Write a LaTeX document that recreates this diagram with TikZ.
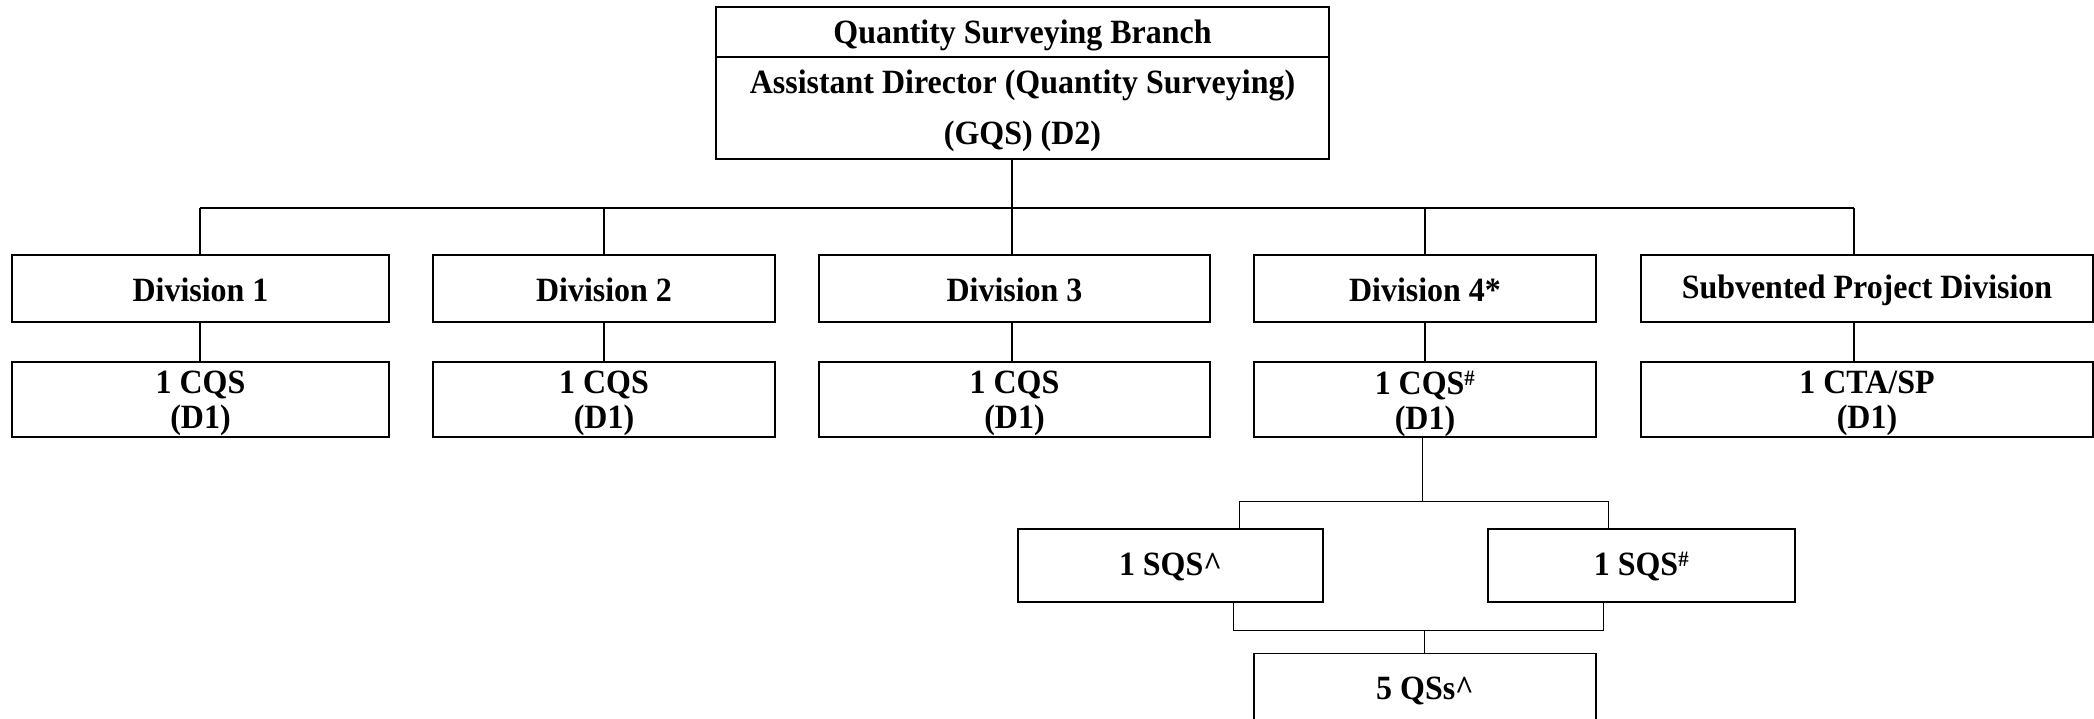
\documentclass[tikz,border=0pt]{standalone}
\usepackage{fontspec}
\setmainfont{Liberation Serif}[FakeStretch=0.94]
\begin{document}
\begin{tikzpicture}[x=1pt,y=-1pt,
  box/.style={draw, line width=1.8pt, inner sep=0pt},
  thinbox/.style={box, line width=1.1pt},
  txt/.style={inner sep=0pt, align=center, font=\bfseries\fontsize{34}{35}\selectfont},
  conn/.style={line width=1.6pt},
  thinconn/.style={line width=1pt}]
\useasboundingbox (0,0) rectangle (2094,719);
% top box
\node[box, minimum width=613pt, minimum height=50pt] (qsb) at (1022.5,32) {};
\node[txt] (qsbt) at ([yshift=-3pt]qsb.center) {Quantity Surveying Branch};
\node[box, minimum width=613pt, minimum height=102pt] (ad) at (1022.5,108) {};
\node[txt, font=\bfseries\fontsize{34}{51}\selectfont] (adt) at ([yshift=-3pt]ad.center) {Assistant Director (Quantity Surveying)\\(GQS) (D2)};
% divisions
\node[box, minimum width=377pt, minimum height=67pt] (d1) at (200.5,288.5) {};
\node[box, minimum width=342pt, minimum height=67pt] (d2) at (604,288.5) {};
\node[box, minimum width=391pt, minimum height=67pt] (d3) at (1014.5,288.5) {};
\node[box, minimum width=342pt, minimum height=67pt] (d4) at (1425,288.5) {};
\node[box, minimum width=452pt, minimum height=67pt] (d5) at (1867,288.5) {};
\node[txt] (d1t) at ([yshift=-1.5pt]d1.center) {Division 1};
\node[txt] (d2t) at ([yshift=-1.5pt]d2.center) {Division 2};
\node[txt] (d3t) at ([yshift=-1.5pt]d3.center) {Division 3};
\node[txt] (d4t) at ([yshift=-1.5pt]d4.center) {Division 4*};
\node[txt] (d5t) at ([yshift=-1.5pt]d5.center) {Subvented Project Division};
% heads
\node[box, minimum width=377pt, minimum height=75pt] (c1) at (200.5,399.5) {};
\node[box, minimum width=342pt, minimum height=75pt] (c2) at (604,399.5) {};
\node[box, minimum width=391pt, minimum height=75pt] (c3) at (1014.5,399.5) {};
\node[box, minimum width=342pt, minimum height=75pt] (c4) at (1425,399.5) {};
\node[box, minimum width=452pt, minimum height=75pt] (c5) at (1867,399.5) {};
\node[txt] (c1t) at ([yshift=-4pt]c1.center) {1 CQS\\(D1)};
\node[txt] (c2t) at ([yshift=-4pt]c2.center) {1 CQS\\(D1)};
\node[txt] (c3t) at ([yshift=-4pt]c3.center) {1 CQS\\(D1)};
\node[txt] (c4t) at ([yshift=-4pt]c4.center) {1 CQS\textsuperscript{\fontsize{22}{22}\selectfont\#}\\(D1)};
\node[txt] (c5t) at ([yshift=-4pt]c5.center) {1 CTA/SP\\(D1)};
% lower level
\node[thinbox, minimum width=305pt, minimum height=73pt] (s1) at (1170.5,565.5) {};
\node[thinbox, minimum width=307pt, minimum height=73pt] (s2) at (1641.5,565.5) {};
\node[box, minimum width=342pt, minimum height=73pt] (q) at (1425,690) {};
\node[txt] (s1t) at ([yshift=-1.5pt]s1.center) {1 SQS\textasciicircum};
\node[txt] (s2t) at ([yshift=-1.5pt]s2.center) {1 SQS\textsuperscript{\fontsize{22}{22}\selectfont\#}};
\node[txt] (qt) at ([yshift=-1pt]q.center) {5 QSs\textasciicircum};
% bus coordinates
\coordinate (b1) at (200,208);
\coordinate (b2) at (604,208);
\coordinate (b3) at (1012,208);
\coordinate (b4) at (1425,208);
\coordinate (b5) at (1854,208);
\draw[conn] (ad.south -| b3) -- (b3);
\draw[conn] (b1) -- (b5);
\foreach \i in {1,...,5}{
  \draw[conn] (b\i) -- (b\i |- d\i.north);
  \draw[conn] (d\i.south -| b\i) -- (b\i |- c\i.north);
}
% sub bus
\coordinate (u0) at (1422,501);
\coordinate (u1) at (1239,501);
\coordinate (u2) at (1608,501);
\draw[thinconn] (c4.south -| u0) -- (u0);
\draw[thinconn] (u1) -- (u2);
\draw[thinconn] (u1) -- (u1 |- s1.north);
\draw[thinconn] (u2) -- (u2 |- s2.north);
% lower bus
\coordinate (l0) at (1424,630);
\coordinate (l1) at (1233,630);
\coordinate (l2) at (1603,630);
\draw[thinconn] (s1.south -| l1) -- (l1) -- (l2) -- (s2.south -| l2);
\draw[thinconn] (l0) -- (l0 |- q.north);
\end{tikzpicture}
\end{document}
